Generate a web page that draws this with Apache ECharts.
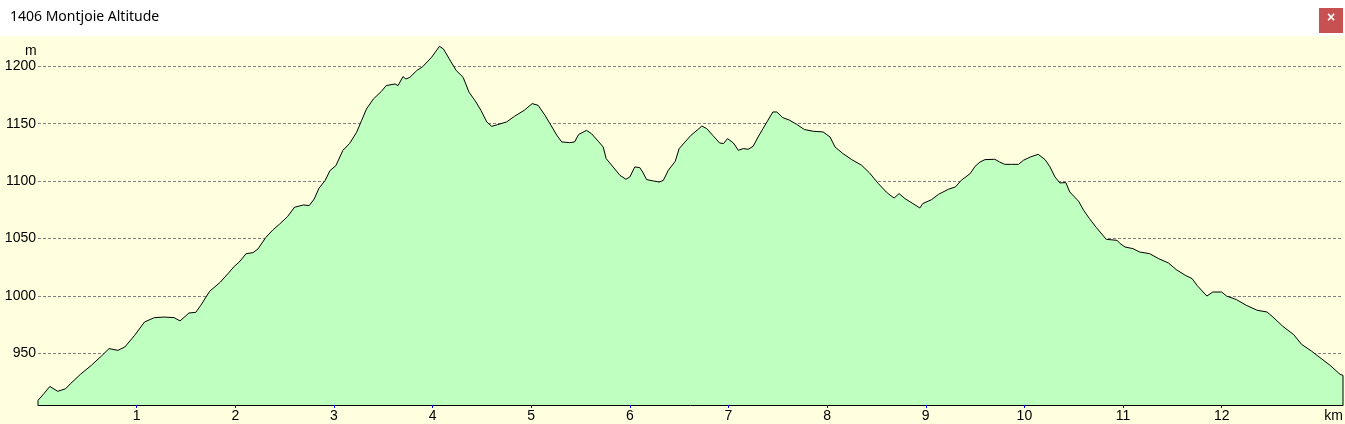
<!DOCTYPE html>
<html>
<head>
<meta charset="utf-8">
<style>
html,body{margin:0;padding:0;background:#FFFFE0;}
#chart{width:1345px;height:424px;}
</style>
<script src="https://cdn.jsdelivr.net/npm/echarts@6/dist/echarts.min.js"></script>
</head>
<body>
<div id="chart"></div>
<script>
const titleText = '1406 Montjoie Altitude';
const xUnit = 'km';
const yUnit = 'm';
const xTicks = [1,2,3,4,5,6,7,8,9,10,11,12];
const yTicks = [950,1000,1050,1100,1150,1200];
const xMin = 0, xMax = 13.23;
const yMin = 905, yMax = 1225.5;

const km = [0,0,0.06,0.12,0.20,0.28,0.33,0.43,0.54,0.64,0.72,0.81,0.88,0.98,1.08,1.18,1.28,1.38,1.44,1.53,1.60,1.65,1.74,1.85,1.94,1.99,2.04,2.11,2.18,2.23,2.31,2.38,2.45,2.53,2.60,2.69,2.75,2.80,2.85,2.91,2.96,3.02,3.09,3.16,3.23,3.28,3.33,3.40,3.48,3.53,3.62,3.65,3.70,3.73,3.77,3.84,3.90,3.99,4.07,4.11,4.17,4.24,4.31,4.37,4.44,4.49,4.55,4.60,4.66,4.75,4.83,4.93,5.01,5.07,5.14,5.19,5.26,5.31,5.39,5.44,5.48,5.56,5.61,5.68,5.73,5.76,5.83,5.90,5.96,6.00,6.05,6.10,6.13,6.17,6.24,6.30,6.34,6.39,6.46,6.50,6.56,6.62,6.69,6.73,6.78,6.84,6.91,6.95,6.99,7.05,7.10,7.15,7.20,7.25,7.30,7.35,7.40,7.45,7.49,7.55,7.62,7.69,7.77,7.86,7.96,8.03,8.08,8.16,8.25,8.35,8.43,8.52,8.60,8.64,8.68,8.73,8.79,8.87,8.94,8.97,9.06,9.13,9.23,9.30,9.36,9.45,9.50,9.55,9.60,9.70,9.75,9.80,9.87,9.94,9.99,10.06,10.14,10.21,10.26,10.31,10.36,10.42,10.46,10.55,10.60,10.66,10.73,10.83,10.94,10.97,11.02,11.10,11.17,11.27,11.36,11.46,11.54,11.63,11.70,11.75,11.85,11.91,12.00,12.05,12.15,12.25,12.36,12.46,12.52,12.62,12.73,12.81,12.91,13.01,13.10,13.20,13.23,13.23];
const alt = [905,909.0,914.9,921.2,916.9,919.2,923.6,931.7,939.5,947.4,954.1,952.6,955.5,965.7,977.3,981.1,981.6,981.1,978.2,985.1,985.7,991.8,1004.0,1012.1,1020.8,1025.8,1029.5,1036.8,1037.7,1040.9,1051.0,1057.4,1062.6,1069.1,1077.2,1079.2,1078.7,1084.4,1094.0,1100.4,1109.1,1113.5,1126.6,1132.9,1142.5,1152.7,1162.8,1171.5,1178.0,1183.2,1184.6,1183.2,1191.0,1188.9,1190.4,1196.3,1199.7,1207.8,1217.4,1215.1,1206.4,1196.3,1190.4,1177.4,1168.9,1161.7,1151.5,1147.7,1149.2,1151.5,1156.4,1161.7,1167.5,1166.0,1157.3,1150.1,1139.9,1134.1,1133.5,1134.1,1140.5,1144.2,1141.4,1134.7,1129.7,1119.6,1112.3,1105.0,1101.6,1103.6,1112.3,1111.8,1107.9,1101.3,1100.1,1099.2,1100.7,1109.4,1117.2,1128.3,1134.1,1139.9,1144.9,1148.0,1145.7,1139.9,1133.2,1132.7,1137.0,1133.2,1126.8,1128.3,1127.7,1130.3,1138.4,1145.7,1153.0,1160.2,1160.2,1155.3,1153.0,1149.5,1144.9,1143.4,1142.8,1138.4,1129.7,1124.0,1118.7,1113.8,1107.1,1097.8,1090.5,1087.6,1085.3,1089.1,1084.7,1080.4,1076.6,1080.4,1083.9,1088.5,1092.9,1094.9,1100.7,1106.5,1112.9,1116.6,1118.7,1119.0,1116.6,1114.6,1114.6,1114.6,1118.1,1121.0,1123.3,1118.7,1112.3,1103.6,1098.4,1098.7,1090.5,1082.4,1074.6,1067.3,1059.5,1049.3,1048.4,1045.6,1042.6,1041.2,1038.2,1036.8,1032.5,1028.7,1022.9,1018.0,1015.1,1009.2,999.9,1003.4,1003.4,999.9,996.8,991.8,987.5,986.0,981.6,973.5,966.3,957.8,952.0,945.4,939.5,931.7,930.8,905];

const seriesData = km.map((k, i) => [k, alt[i]]);
const font = '"Liberation Sans", Arial, sans-serif';

const chart = echarts.init(document.getElementById('chart'), null, {renderer: 'canvas'});
chart.setOption({
  animation: false,
  backgroundColor: '#FFFFE0',
  grid: {left: 38, right: 2, top: 37, bottom: 19, containLabel: false},
  xAxis: {
    type: 'value', min: xMin, max: xMax,
    axisLine: {show: true, onZero: false, lineStyle: {color: '#000', width: 1}},
    axisTick: {show: true, customValues: xTicks, length: 3, lineStyle: {color: '#0000FF', width: 1}},
    axisLabel: {customValues: xTicks, margin: 4, color: '#000', fontFamily: font, fontSize: 14, formatter: v => String(v)},
    splitLine: {show: false}
  },
  yAxis: {
    type: 'value', min: yMin, max: yMax,
    axisLine: {show: false},
    axisTick: {show: false, customValues: yTicks},
    axisLabel: {customValues: yTicks, margin: 2, color: '#000', fontFamily: font, fontSize: 14, formatter: v => String(v)},
    splitLine: {show: true, lineStyle: {color: '#808080', type: [3, 2], width: 1}}
  },
  graphic: [
    {type: 'rect', left: 0, top: 0, shape: {width: 1345, height: 36}, style: {fill: '#FFFFFF'}, silent: true},
    {type: 'text', left: 10, top: 10, style: {text: titleText, fill: '#000', font: '14px "Noto Sans", "Liberation Sans", sans-serif'}},
    {type: 'rect', left: 1319, top: 8, shape: {width: 24, height: 25}, style: {fill: '#C75050'}},
    {type: 'text', left: 1327, top: 11, style: {text: '×', fill: '#FFFFFF', font: 'bold 14px "Liberation Sans", sans-serif'}},
    {type: 'text', left: 25, top: 44, style: {text: yUnit, fill: '#000', font: '14px ' + font}},
    {type: 'text', right: 2, top: 409, style: {text: xUnit, fill: '#000', font: '14px ' + font}}
  ],
  series: [{
    type: 'line',
    data: seriesData,
    showSymbol: false,
    symbol: 'none',
    lineStyle: {color: '#000', width: 1},
    areaStyle: {color: '#BFFFBF', opacity: 1, origin: 'start'},
    z: 3
  }]
});
</script>
</body>
</html>
